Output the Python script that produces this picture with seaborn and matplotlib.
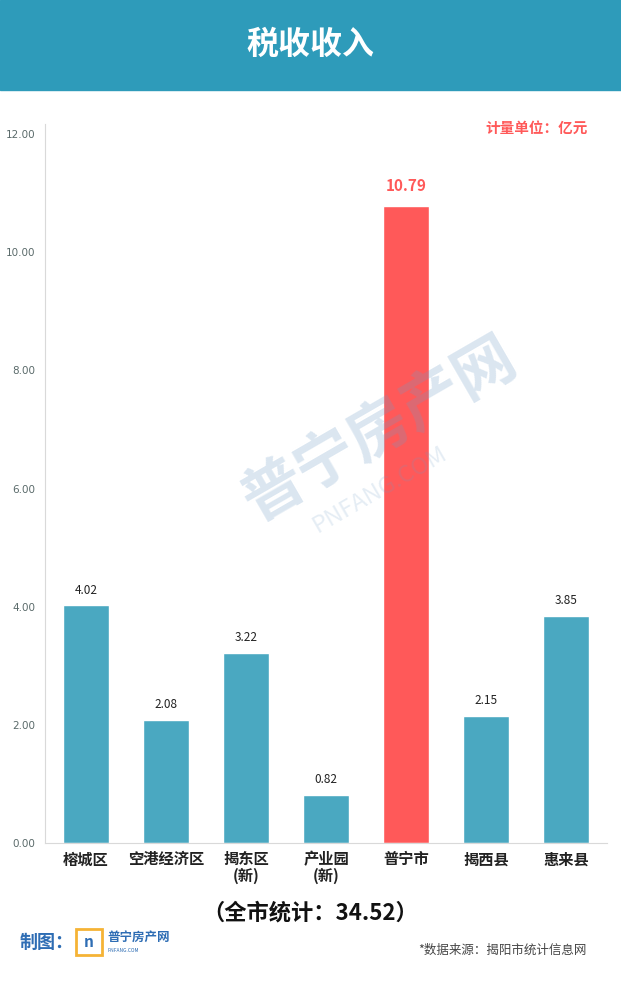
import numpy as np
import pandas as pd
import matplotlib.pyplot as plt
import seaborn as sns
from matplotlib.patches import Rectangle

# data
regions = ['榕城区', '空港经济区', '揭东区\n(新)', '产业园\n(新)', '普宁市', '揭西县', '惠来县']
revenue = [4.02, 2.08, 3.22, 0.82, 10.79, 2.15, 3.85]
highlight = '普宁市'
yticks = [0, 2, 4, 6, 8, 10, 12]
total = 34.52

sns.set_style("white")
plt.rcParams['font.family'] = ['Noto Sans CJK SC', 'DejaVu Sans']

BLUE = '#4AA8C1'
RED = '#FF5959'
HEAD = '#2E9BBA'

W, H = 621, 983
fig = plt.figure(figsize=(W / 100, H / 100), dpi=100)

# header band
fig.patches.append(Rectangle((0, 1 - 90 / H), 1, 90 / H, transform=fig.transFigure,
                             color=HEAD, zorder=0))
fig.text(0.5, 1 - 45 / H, '税收收入', color='white', fontsize=23, fontweight='bold',
         ha='center', va='center')

ax = fig.add_axes([45 / W, (H - 843) / H, (607 - 45) / W, (843 - 124) / H])
df = pd.DataFrame({'region': regions, 'value': revenue})
palette = {r: (RED if r == highlight else BLUE) for r in regions}
sns.barplot(data=df, x='region', y='value', hue='region', palette=palette,
            width=0.575, legend=False, ax=ax, saturation=1)

ax.set_xlim(-0.51, len(regions) - 0.49)
ax.set_ylim(0, 12.17)
ax.set_yticks(yticks)
ax.set_yticklabels([f'{t:.2f}' for t in yticks], color='#5a6a6a', fontsize=7.5,
                   family=['DejaVu Sans'])
ax.tick_params(axis='y', length=0, pad=7)
ax.tick_params(axis='x', length=0, pad=6)
ax.set_xticks(range(len(regions)))
ax.set_xticklabels(regions, fontsize=11, fontweight='bold', color='#222222',
                   va='top', linespacing=1.0)
ax.set_xlabel('')
ax.set_ylabel('')
for s in ['top', 'right']:
    ax.spines[s].set_visible(False)
ax.spines['left'].set_color('#d9d9d9')
ax.spines['bottom'].set_color('#d9d9d9')

for i, (r, v) in enumerate(zip(regions, revenue)):
    if r == highlight:
        ax.text(i, v + 0.2, f'{v:.2f}', ha='center', va='bottom', color=RED,
                fontsize=11, fontweight='bold')
    else:
        ax.text(i, v + 0.15, f'{v:.2f}', ha='center', va='bottom', color='#222222',
                fontsize=8.5)

fig.text(588 / W, 1 - 128 / H, '计量单位：亿元', color=RED, fontsize=10.5,
         fontweight='bold', ha='right', va='center')

# faint watermark over the chart
fig.text(380 / W, 1 - 430 / H, '普宁房产网', color='#6f9cc6', fontsize=44,
         fontweight='bold', rotation=30, ha='center', va='center', alpha=0.25, zorder=5)
fig.text(380 / W, 1 - 490 / H, 'PNFANG.COM', color='#6f9cc6', fontsize=17,
         rotation=30, ha='center', va='center', alpha=0.18, zorder=5)

fig.text(0.5, 1 - 913 / H, f'（全市统计：{total:.2f}）', color='#111111', fontsize=16,
         fontweight='bold', ha='center', va='center')

# credit
fig.text(20 / W, 1 - 942 / H, '制图：', color='#2E6DB4', fontsize=13,
         fontweight='bold', ha='left', va='center')
fig.patches.append(Rectangle((76 / W, 1 - 955 / H), 26 / W, 26 / H,
                             transform=fig.transFigure, fill=False,
                             edgecolor='#F5B335', linewidth=2))
fig.text(89 / W, 1 - 942 / H, 'n', color='#2E6DB4', fontsize=11, fontweight='bold',
         ha='center', va='center')
fig.text(107 / W, 1 - 937 / H, '普宁房产网', color='#2E6DB4', fontsize=9,
         fontweight='bold', ha='left', va='center')
fig.text(108 / W, 1 - 950 / H, 'PNFANG.COM', color='#2E6DB4', fontsize=3.5,
         ha='left', va='center')

fig.text(587 / W, 1 - 950 / H, '*数据来源：揭阳市统计信息网', color='#444444',
         fontsize=9, ha='right', va='center')

fig.savefig('out.png', dpi=100)
